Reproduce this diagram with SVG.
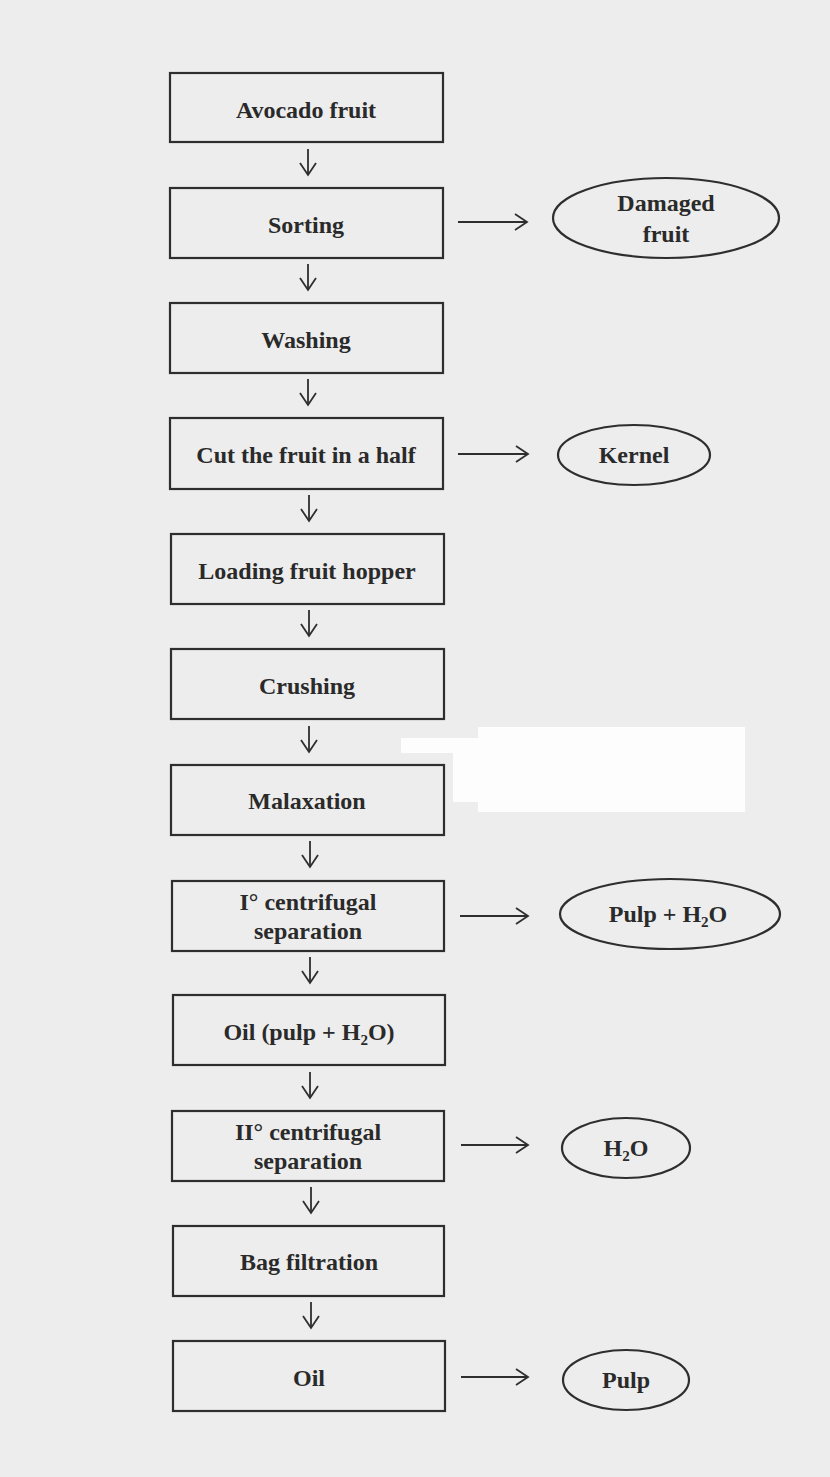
<svg xmlns="http://www.w3.org/2000/svg" width="830" height="1477" viewBox="0 0 830 1477">
<defs>
<style>
.bg{fill:#ededed}
.box{fill:none;stroke:#2e2e2e;stroke-width:2.2}
.t{font-family:"Liberation Serif","Times New Roman",serif;font-weight:bold;font-size:24px;fill:#2a2a2a;text-anchor:middle}
.sub{font-size:15px}
.c{fill:none;stroke:#2e2e2e;stroke-width:1.8}
</style>
<marker id="ah" markerWidth="16" markerHeight="18" refX="13" refY="9" orient="auto" markerUnits="userSpaceOnUse">
<path d="M1,1 L13,9 L1,17" fill="none" stroke="#2e2e2e" stroke-width="1.8"/>
</marker>
</defs>
<rect class="bg" x="0" y="0" width="830" height="1477"/>
<g id="patch" fill="#fdfdfd">
<rect x="478" y="727" width="267" height="85"/>
<rect x="401" y="738" width="77" height="15"/>
<rect x="453" y="738" width="25" height="64"/>
</g>
<g id="connectors">
<line class="c" x1="308" y1="149" x2="308" y2="175" marker-end="url(#ah)"/>
<line class="c" x1="308" y1="264" x2="308" y2="290" marker-end="url(#ah)"/>
<line class="c" x1="308" y1="379" x2="308" y2="405" marker-end="url(#ah)"/>
<line class="c" x1="309" y1="495" x2="309" y2="521" marker-end="url(#ah)"/>
<line class="c" x1="309" y1="610" x2="309" y2="636" marker-end="url(#ah)"/>
<line class="c" x1="309" y1="726" x2="309" y2="752" marker-end="url(#ah)"/>
<line class="c" x1="310" y1="841" x2="310" y2="867" marker-end="url(#ah)"/>
<line class="c" x1="310" y1="957" x2="310" y2="983" marker-end="url(#ah)"/>
<line class="c" x1="310" y1="1072" x2="310" y2="1098" marker-end="url(#ah)"/>
<line class="c" x1="311" y1="1187" x2="311" y2="1213" marker-end="url(#ah)"/>
<line class="c" x1="311" y1="1302" x2="311" y2="1328" marker-end="url(#ah)"/>
<line class="c" x1="458" y1="222" x2="527" y2="222" marker-end="url(#ah)"/>
<line class="c" x1="458" y1="454" x2="528" y2="454" marker-end="url(#ah)"/>
<line class="c" x1="460" y1="916" x2="528" y2="916" marker-end="url(#ah)"/>
<line class="c" x1="461" y1="1145" x2="528" y2="1145" marker-end="url(#ah)"/>
<line class="c" x1="461" y1="1377" x2="528" y2="1377" marker-end="url(#ah)"/>
</g>
<g id="n1"><rect class="box" x="170" y="73" width="273" height="69"/><text class="t" x="306" y="118">Avocado fruit</text></g>
<g id="n2"><rect class="box" x="170" y="188" width="273" height="70"/><text class="t" x="306" y="233">Sorting</text></g>
<g id="n3"><rect class="box" x="170" y="303" width="273" height="70"/><text class="t" x="306" y="348">Washing</text></g>
<g id="n4"><rect class="box" x="170" y="418" width="273" height="71"/><text class="t" x="306" y="463">Cut the fruit in a half</text></g>
<g id="n5"><rect class="box" x="171" y="534" width="273" height="70"/><text class="t" x="307" y="579">Loading fruit hopper</text></g>
<g id="n6"><rect class="box" x="171" y="649" width="273" height="70"/><text class="t" x="307" y="694">Crushing</text></g>
<g id="n7"><rect class="box" x="171" y="765" width="273" height="70"/><text class="t" x="307" y="809">Malaxation</text></g>
<g id="n8"><rect class="box" x="172" y="881" width="272" height="70"/><text class="t" x="308" y="910">I° centrifugal</text><text class="t" x="308" y="939">separation</text></g>
<g id="n9"><rect class="box" x="173" y="995" width="272" height="70"/><text class="t" x="309" y="1040">Oil (pulp + H<tspan class="sub" dy="5">2</tspan><tspan dy="-5">O)</tspan></text></g>
<g id="n10"><rect class="box" x="172" y="1111" width="272" height="70"/><text class="t" x="308" y="1140">II° centrifugal</text><text class="t" x="308" y="1169">separation</text></g>
<g id="n11"><rect class="box" x="173" y="1226" width="271" height="70"/><text class="t" x="309" y="1270">Bag filtration</text></g>
<g id="n12"><rect class="box" x="173" y="1341" width="272" height="70"/><text class="t" x="309" y="1386">Oil</text></g>
<g id="o1"><ellipse class="box" cx="666" cy="218" rx="113" ry="40"/><text class="t" x="666" y="211">Damaged</text><text class="t" x="666" y="242">fruit</text></g>
<g id="o2"><ellipse class="box" cx="634" cy="455" rx="76" ry="30"/><text class="t" x="634" y="463">Kernel</text></g>
<g id="o3"><ellipse class="box" cx="670" cy="914" rx="110" ry="35"/><text class="t" x="668" y="922">Pulp + H<tspan class="sub" dy="5">2</tspan><tspan dy="-5">O</tspan></text></g>
<g id="o4"><ellipse class="box" cx="626" cy="1148" rx="64" ry="30"/><text class="t" x="626" y="1156">H<tspan class="sub" dy="5">2</tspan><tspan dy="-5">O</tspan></text></g>
<g id="o5"><ellipse class="box" cx="626" cy="1380" rx="63" ry="30"/><text class="t" x="626" y="1388">Pulp</text></g>
</svg>
